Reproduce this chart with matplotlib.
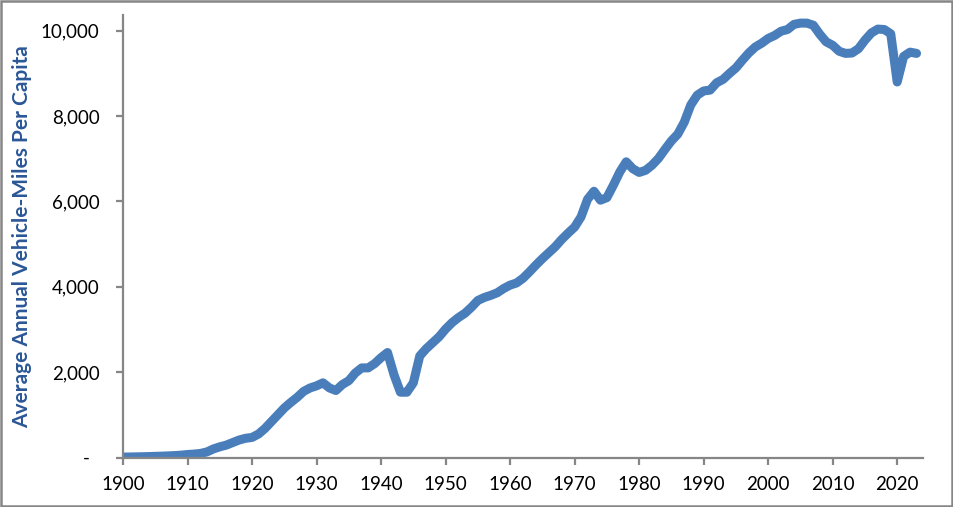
import numpy as np
import matplotlib
matplotlib.use("Agg")
import matplotlib.pyplot as plt
from matplotlib.ticker import FuncFormatter
from matplotlib.patches import Rectangle

plt.rcParams['font.family'] = ['Lato', 'DejaVu Sans']

# years and average annual vehicle-miles per capita
years = list(range(1900, 2024))
vmt = [
    10, 12, 15, 18, 22, 27, 32, 38, 45, 55,                     # 1900s
    70, 80, 95, 130, 200, 250, 290, 350, 410, 450,              # 1910s
    470, 550, 680, 840, 1000, 1160, 1290, 1410, 1550, 1630,     # 1920s
    1680, 1750, 1630, 1570, 1710, 1800, 1980, 2100, 2100, 2200, # 1930s
    2340, 2460, 1940, 1530, 1530, 1750, 2380, 2550, 2690, 2830, # 1940s
    3010, 3160, 3280, 3380, 3520, 3680, 3750, 3800, 3860, 3960, # 1950s
    4040, 4090, 4200, 4350, 4510, 4660, 4800, 4940, 5110, 5260, # 1960s
    5400, 5640, 6050, 6240, 6030, 6090, 6380, 6690, 6930, 6770, # 1970s
    6680, 6730, 6850, 7010, 7220, 7420, 7580, 7860, 8260, 8490, # 1980s
    8590, 8610, 8780, 8860, 9000, 9130, 9310, 9480, 9620, 9710, # 1990s
    9820, 9890, 9990, 10030, 10150, 10180, 10180, 10130, 9920, 9740,  # 2000s
    9660, 9520, 9470, 9480, 9580, 9780, 9950, 10040, 10030, 9930,     # 2010s
    8800, 9400, 9500, 9470,                                           # 2020s
]
x_ticks = list(range(1900, 2021, 10))
y_ticks = [0, 2000, 4000, 6000, 8000, 10000]

line_color = '#4A7EBB'
axis_color = '#868686'
label_color = '#2B5797'

fig = plt.figure(figsize=(9.54, 5.07), dpi=100)
ax = fig.add_axes([123 / 954, 1 - 457.5 / 507, 800 / 954, 442.5 / 507])

ax.plot(years, vmt, color=line_color, linewidth=6.5, solid_capstyle='round',
        solid_joinstyle='round')

ax.set_xlim(1900, 2024)
ax.set_ylim(0, 10370)
ax.set_xticks(x_ticks)
ax.set_yticks(y_ticks)


def fmt(v, pos):
    if v == 0:
        return '-  '
    return f'{int(v):,}'


ax.yaxis.set_major_formatter(FuncFormatter(fmt))

for side in ['top', 'right']:
    ax.spines[side].set_visible(False)
for side in ['left', 'bottom']:
    ax.spines[side].set_color(axis_color)
    ax.spines[side].set_linewidth(1.6)

ax.tick_params(axis='both', direction='out', length=5, width=1.6,
               color=axis_color, labelsize=13.5, labelcolor='#000000')
ax.tick_params(axis='y', pad=12)
ax.tick_params(axis='x', pad=8)

ax.set_ylabel('Average Annual Vehicle-Miles Per Capita', fontsize=15,
              fontweight='bold', color=label_color, labelpad=6)

# chart area border
fig.patches.append(Rectangle((0.001, 0.002), 0.997, 0.996, transform=fig.transFigure,
                             fill=False, edgecolor=axis_color, linewidth=1.8))

fig.savefig('out.png', dpi=100)
